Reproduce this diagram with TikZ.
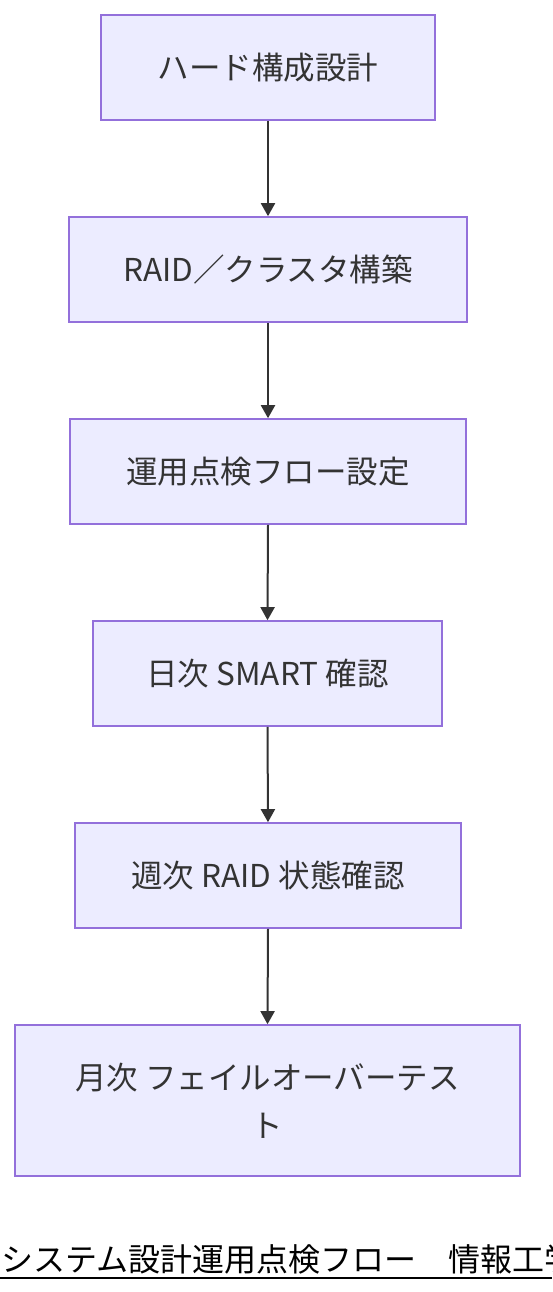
\documentclass[tikz,border=0pt]{standalone}
\usepackage{fontspec}
\setmainfont{Noto Sans CJK JP}
\usetikzlibrary{arrows.meta}
\definecolor{boxfill}{HTML}{ECECFF}
\definecolor{boxline}{HTML}{9370DB}
\definecolor{ink}{HTML}{333333}
\tikzset{
  stepbox/.style={draw=boxline, fill=boxfill, line width=1.6pt, rectangle,
    inner sep=0pt, align=center, text=ink,
    font=\fontsize{31.5}{48}\selectfont},
  flow/.style={draw=ink, line width=2pt, -{Triangle[length=13pt,width=14pt]}}
}
\begin{document}
\begin{tikzpicture}[x=1pt,y=-1pt]
\useasboundingbox (0,0) rectangle (552,1292);
\clip (0,0) rectangle (552,1292);
\fill[white] (0,0) rectangle (552,1292);
\node[stepbox, minimum width=334pt, minimum height=105pt] (n1) at (268,67.5) {ハード構成設計};
\node[stepbox, minimum width=398pt, minimum height=105pt] (n2) at (268,269.5) {RAID／クラスタ構築};
\node[stepbox, minimum width=396pt, minimum height=105pt] (n3) at (268,471.5) {運用点検フロー設定};
\node[stepbox, minimum width=349pt, minimum height=105pt] (n4) at (267.5,673.5) {日次 SMART 確認};
\node[stepbox, minimum width=386pt, minimum height=105pt] (n5) at (268,875.5) {週次 RAID 状態確認};
\node[stepbox, minimum width=505pt, minimum height=151pt] (n6) at (267.5,1100.5) {月次 フェイルオーバーテス\\ト};
\draw[flow] (n1.south) -- (n2.north);
\draw[flow] (n2.south) -- (n3.north);
\draw[flow] (n3.south) -- (n4.north);
\draw[flow] (n4.south) -- (n5.north);
\draw[flow] (n5.south) -- (n6.north);
\node[anchor=base west, inner sep=0pt, font=\fontsize{32}{38}\selectfont, text=black] (title) at (1,1271) {システム設計運用点検フロー　情報工学};
\coordinate (ulL) at (0,1277.5);
\coordinate (ulR) at (552,1277.5);
\draw[black, line width=2pt] (ulL) -- (ulR);
\end{tikzpicture}
\end{document}
